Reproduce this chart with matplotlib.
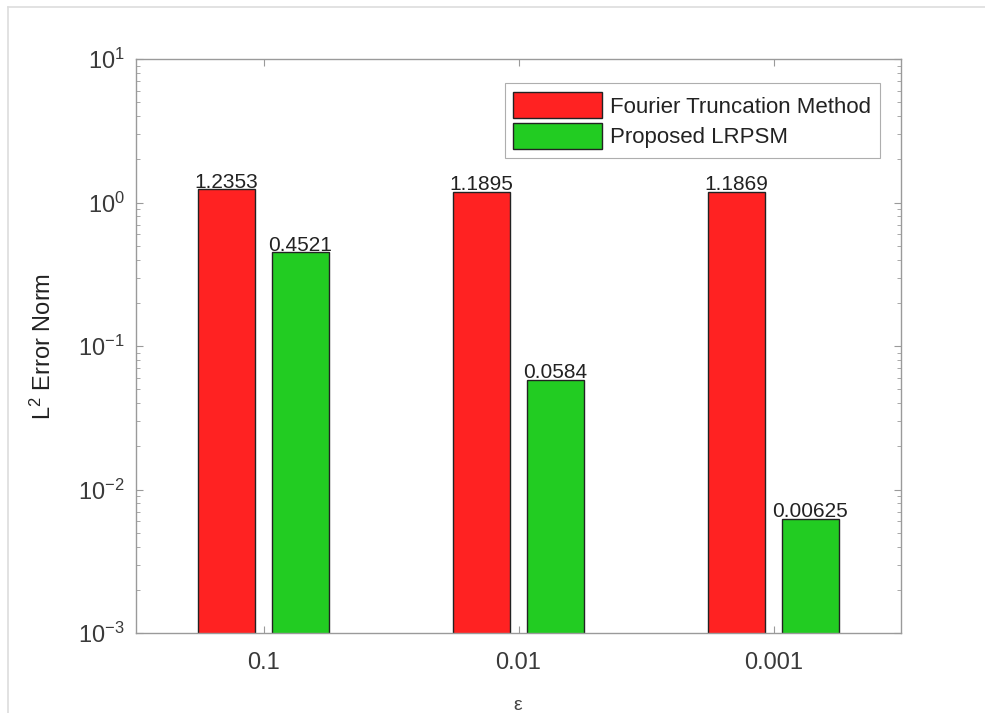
import numpy as np
import matplotlib
matplotlib.use("Agg")
import matplotlib.pyplot as plt
from matplotlib.lines import Line2D

plt.rcParams['font.family'] = ['Liberation Sans Narrow', 'Liberation Sans', 'DejaVu Sans']
plt.rcParams['mathtext.default'] = 'regular'

# data
categories = ["0.1", "0.01", "0.001"]
fourier = [1.2353, 1.1895, 1.1869]
lrpsm = [0.4521, 0.0584, 0.00625]
fourier_labels = ["1.2353", "1.1895", "1.1869"]
lrpsm_labels = ["0.4521", "0.0584", "0.00625"]
yticks = [1e-3, 1e-2, 1e-1, 1e0, 1e1]
ytick_labels = ["$10^{-3}$", "$10^{-2}$", "$10^{-1}$", "$10^{0}$", "$10^{1}$"]

red = "#ff2222"
green = "#22cc22"
spine = "#9a9a9a"

fig = plt.figure(figsize=(9.85, 7.13), dpi=100)
ax = fig.add_axes([136/985, 1 - 633/713, (901-136)/985, (633-59)/713])

x = np.arange(1, len(categories) + 1)
w = 0.227
off = 0.145
b1 = ax.bar(x - off, fourier, w, color=red, edgecolor="#222222", linewidth=1.0,
            label="Fourier Truncation Method")
b2 = ax.bar(x + off, lrpsm, w, color=green, edgecolor="#222222", linewidth=1.0,
            label="Proposed LRPSM")

for xi, v, s in zip(x - off, fourier, fourier_labels):
    ax.text(xi, v * 0.96, s, ha="center", va="bottom", fontsize=15, color="#222222")
for xi, v, s in zip(x + off, lrpsm, lrpsm_labels):
    ax.text(xi, v * 0.96, s, ha="center", va="bottom", fontsize=15, color="#222222")

ax.set_yscale("log")
ax.set_ylim(1e-3, 1e1)
ax.set_xlim(0.5, 3.5)
ax.set_yticks(yticks)
ax.set_yticklabels(ytick_labels)
ax.set_xticks(x)
ax.set_xticklabels(categories)

ax.tick_params(axis="both", which="both", direction="in", colors=spine,
               labelcolor="#3a3a3a", labelsize=17, top=True, right=True)
ax.tick_params(axis="y", which="major", length=5, width=0.8, pad=8)
ax.tick_params(axis="y", which="minor", length=3, width=0.6)
ax.tick_params(axis="x", which="major", length=5, width=0.8, pad=14)
for s in ax.spines.values():
    s.set_color(spine)
    s.set_linewidth(1.0)

ax.set_ylabel("$L^2$ Error Norm", fontsize=17, color="#222222", labelpad=16)
ax.set_xlabel("$\\epsilon$", fontsize=14, color="#444444", labelpad=16)

leg = ax.legend(loc="upper right", bbox_to_anchor=(0.9725, 0.958), fontsize=16,
                frameon=True, fancybox=False, edgecolor=spine, handlelength=4.0,
                handleheight=1.45, handletextpad=0.35, borderpad=0.4,
                labelspacing=0.2, borderaxespad=0)
leg.get_frame().set_linewidth(0.8)
for t in leg.get_texts():
    t.set_color("#222222")

# light outer frame lines (top and left)
fig.add_artist(Line2D([8/985, 1], [1 - 7/713, 1 - 7/713], color="#dddddd", lw=1.2,
                      transform=fig.transFigure))
fig.add_artist(Line2D([8/985, 8/985], [0, 1 - 7/713], color="#dddddd", lw=1.2,
                      transform=fig.transFigure))

fig.savefig("out.png", dpi=100, facecolor="white")
